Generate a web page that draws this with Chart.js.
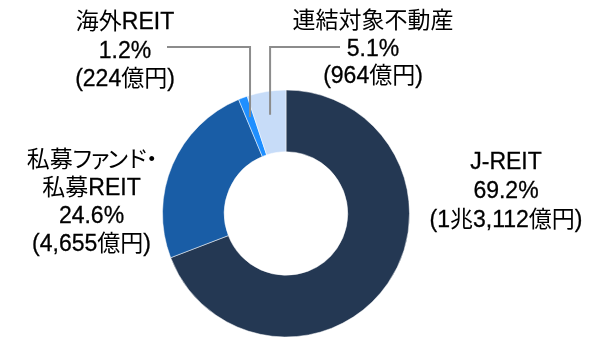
<!DOCTYPE html>
<html lang="ja">
<head>
<meta charset="utf-8">
<script src="https://cdn.jsdelivr.net/npm/chart.js@4.4.1/dist/chart.umd.min.js"></script>
<style>
  html, body { margin: 0; padding: 0; background: #fff; }
  #wrap { width: 596px; height: 339px; position: relative; }
</style>
</head>
<body>
<div id="wrap"><canvas id="chart-portfolio"></canvas></div>
<script>
// -- DATA ----------------------------------------------
const categories = ["J-REIT", "私募ファンド・私募REIT", "海外REIT", "連結対象不動産"];
const amounts = [13112, 4655, 224, 964];          // 億円
const shares = ["69.2%", "24.6%", "1.2%", "5.1%"];
const amountLabels = ["(1兆3,112億円)", "(4,655億円)", "(224億円)", "(964億円)"];
const colors = ["#243853", "#195da6", "#1f8fff", "#c7dcf8"];

// label blocks drawn beside the ring: first line(s) are the name
const labelLines = [
  ["J-REIT", shares[0], amountLabels[0]],
  ["私募ファンド・", "私募REIT", shares[1], amountLabels[1]],
  ["海外REIT", shares[2], amountLabels[2]],
  ["連結対象不動産", shares[3], amountLabels[3]]
];

// -- TEXT HELPERS --------------------------------------
const LATIN_FONT = "23px 'Liberation Sans', Arial, sans-serif";
const CJK_FONT = "23px 'Noto Sans CJK JP', sans-serif";
const CJK_SIZE = 23;
const isCJK = (ch) => /[\u3000-\u9fff\uff00-\uffef]/.test(ch);

// proportional advance for Japanese glyphs (kana narrower than kanji)
function cjkAdvance(ch) {
  if (ch === "・") return CJK_SIZE * 0.4;
  if (/[ァィゥェォャュョッ]/.test(ch)) return CJK_SIZE * 0.68;
  if (/[\u30a0-\u30ff]/.test(ch)) return CJK_SIZE * 0.85;
  return CJK_SIZE;
}

function splitRuns(text) {
  const runs = [];
  for (const ch of text) {
    const cjk = isCJK(ch);
    const last = runs[runs.length - 1];
    if (last && last.cjk === cjk) last.text += ch;
    else runs.push({ text: ch, cjk });
  }
  return runs;
}

function runWidth(ctx, run) {
  if (run.cjk) return [...run.text].reduce((s, ch) => s + cjkAdvance(ch), 0);
  ctx.font = LATIN_FONT;
  return ctx.measureText(run.text).width;
}

// cy is the visual middle of the line
function drawMixed(ctx, text, cx, cy) {
  const runs = splitRuns(text);
  const total = runs.reduce((s, r) => s + (r.w = runWidth(ctx, r)), 0);
  const base = cy + 8;
  let x = cx - total / 2;
  runs.forEach((r) => {
    if (r.cjk) {
      ctx.font = CJK_FONT;
      ctx.textAlign = "center";
      for (const ch of r.text) {
        const adv = cjkAdvance(ch);
        ctx.fillText(ch, x + adv / 2, base);
        x += adv;
      }
    } else {
      ctx.font = LATIN_FONT;
      ctx.textAlign = "left";
      ctx.fillText(r.text, x, base);
      ctx.strokeText(r.text, x, base);
      x += r.w;
    }
  });
}

function drawBlock(ctx, lines, cx, top, step) {
  lines.forEach((line, i) => drawMixed(ctx, line, cx, top + i * step));
}

// point inside an arc at its middle angle
function arcAnchor(arc, radius) {
  const a = (arc.startAngle + arc.endAngle) / 2;
  return { x: arc.x + Math.cos(a) * radius, y: arc.y + Math.sin(a) * radius };
}

// -- LABELS PLUGIN -------------------------------------
const sideLabels = {
  id: "sideLabels",
  afterDraw(chart) {
    const ctx = chart.ctx;
    const arcs = chart.getDatasetMeta(0).data;
    ctx.save();
    ctx.fillStyle = "#000";
    ctx.strokeStyle = "#000";
    ctx.lineWidth = 0.3;
    ctx.textBaseline = "alphabetic";

    drawBlock(ctx, labelLines[0], 506, 161, 29);
    drawBlock(ctx, labelLines[1], 91.5, 159, 28);
    drawBlock(ctx, labelLines[2], 125, 21, 28.5);
    drawBlock(ctx, labelLines[3], 373, 20, 27.5);

    // leader lines for the two thin slices
    const lineY = 47;
    const p2 = arcAnchor(arcs[2], 103);
    const p3 = arcAnchor(arcs[3], 100);
    ctx.strokeStyle = "#8c8c8c";
    ctx.lineWidth = 2;
    ctx.beginPath();
    ctx.moveTo(167, lineY);
    ctx.lineTo(p2.x, lineY);
    ctx.lineTo(p2.x, p2.y);
    ctx.moveTo(340, lineY);
    ctx.lineTo(p3.x, lineY);
    ctx.lineTo(p3.x, p3.y);
    ctx.stroke();
    ctx.restore();
  }
};

// -- RENDER --------------------------------------------
function createPortfolioChart() {
  const ctx = document.getElementById("chart-portfolio");
  return new Chart(ctx, {
    type: "doughnut",
    data: {
      labels: categories,
      datasets: [
        {
          data: amounts,
          backgroundColor: colors,
          borderColor: "#ffffff",
          borderWidth: 0.5,
          hoverOffset: 0
        }
      ]
    },
    options: {
      responsive: true,
      maintainAspectRatio: false,
      animation: false,
      radius: 123.5,
      cutout: "50%",
      layout: { padding: { top: 90, bottom: 2, left: 100, right: 124 } },
      plugins: {
        legend: { display: false },
        tooltip: { enabled: false }
      }
    },
    plugins: [sideLabels]
  });
}

createPortfolioChart();
</script>
</body>
</html>
